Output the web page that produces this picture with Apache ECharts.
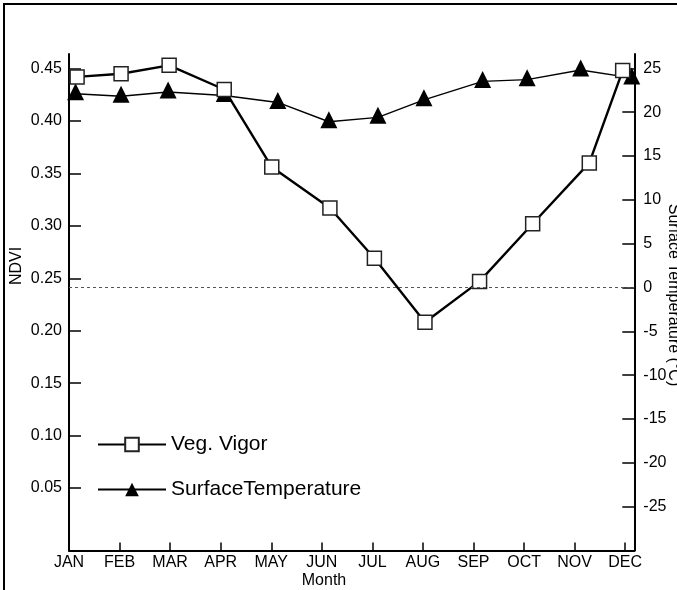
<!DOCTYPE html>
<html><head><meta charset="utf-8">
<script src="https://cdn.jsdelivr.net/npm/echarts@6/dist/echarts.min.js"></script>
<style>html,body{margin:0;padding:0;background:#fff}#c{width:677px;height:590px}</style>
</head><body><div id="c"></div>
<script>
// ---- data ----
const months = ['JAN','FEB','MAR','APR','MAY','JUN','JUL','AUG','SEP','OCT','NOV','DEC'];
// x position of each observation in month units (JAN = 0)
const vigorX = [0.16, 1.03, 1.98, 3.07, 4.01, 5.16, 6.04, 7.04, 8.12, 9.17, 10.29, 10.95];
const vigorNDVI = [0.442, 0.445, 0.453, 0.430, 0.356, 0.317, 0.269, 0.208, 0.247, 0.302, 0.360, 0.448];
const tempX = [0.13, 1.03, 1.96, 3.07, 4.13, 5.14, 6.11, 7.02, 8.18, 9.06, 10.12, 11.13];
const tempC = [22.1, 21.8, 22.3, 21.9, 21.1, 18.9, 19.4, 21.4, 23.5, 23.7, 24.8, 23.9];
const ndviRange = [0.05, 0.45];
const tempRange = [-25, 25];
const seriesNames = ['Veg. Vigor', 'SurfaceTemperature'];

const FONT = '"Liberation Sans", Arial, Helvetica, sans-serif';
const X_MAX = 11.18;
const GL = 69, GR = 42.7;
const blk = '#000';

const hiddenX = (g) => ({gridIndex:g, type:'value', min:0, max:X_MAX, show:false});
const lineOnly = (g, pos) => ({gridIndex:g, type:'value', position:pos, min:0, max:1,
  axisLine:{show:true, onZero:false, lineStyle:{color:blk, width:2}},
  axisTick:{show:false}, axisLabel:{show:false}, splitLine:{show:false}});

const chart = echarts.init(document.getElementById('c'), null, {renderer:'canvas'});
chart.setOption({
  animation:false,
  backgroundColor:'#fff',
  grid:[
    {left:GL, right:GR, top:68.5, bottom:102},   // NDVI 0.05..0.45
    {left:GL, right:GR, top:68.25, bottom:83.25}, // Temp -25..25
    {left:GL, right:GR, top:54, bottom:39.4}     // frame / month axis
  ],
  xAxis:[
    hiddenX(0), hiddenX(1),
    {gridIndex:2, type:'value', min:0, max:X_MAX, interval:1,
     axisLine:{show:true, onZero:false, lineStyle:{color:blk, width:2}},
     axisTick:{show:true, inside:true, length:8, lineStyle:{color:blk, width:1.5}},
     axisLabel:{color:blk, fontSize:16, fontFamily:FONT, margin:4,
       formatter:(v)=> (Number.isInteger(v) && months[v]) ? months[v] : ''},
     splitLine:{show:false}}
  ],
  yAxis:[
    {gridIndex:0, type:'value', position:'left', min:ndviRange[0], max:ndviRange[1], interval:0.05,
     axisLine:{show:false, onZero:false},
     axisTick:{show:true, inside:true, length:12, lineStyle:{color:blk, width:1.5}},
     axisLabel:{color:blk, fontSize:16, fontFamily:FONT, margin:7, formatter:(v)=>v.toFixed(2)},
     splitLine:{show:false}},
    {gridIndex:1, type:'value', position:'right', min:tempRange[0], max:tempRange[1], interval:5,
     axisLine:{show:false, onZero:false},
     axisTick:{show:true, inside:true, length:12, lineStyle:{color:blk, width:1.5}},
     axisLabel:{color:blk, fontSize:16, fontFamily:FONT, margin:9},
     splitLine:{show:false}},
    lineOnly(2,'left'), lineOnly(2,'right')
  ],
  legend:{
    orient:'vertical', left:92, top:429, itemWidth:68, itemHeight:17, itemGap:24,
    selectedMode:false, data:seriesNames,
    textStyle:{color:blk, fontSize:21, fontFamily:FONT}
  },
  series:[
    {name:seriesNames[1], type:'line', xAxisIndex:1, yAxisIndex:1, clip:false, z:2,
     data:tempX.map((x,i)=>[x, tempC[i]]),
     symbol:'triangle', symbolSize:[17,17], symbolOffset:[0,-2],
     lineStyle:{color:blk, width:1.4}, itemStyle:{color:blk},
     markLine:{silent:true, symbol:'none', label:{show:false},
       lineStyle:{color:'#555', type:[3,3], width:1}, data:[{yAxis:0}]}},
    {name:seriesNames[0], type:'line', xAxisIndex:0, yAxisIndex:0, clip:false, z:3,
     data:vigorX.map((x,i)=>[x, vigorNDVI[i]]),
     symbol:'rect', symbolSize:14,
     lineStyle:{color:blk, width:2.4},
     itemStyle:{color:'#fff', borderColor:'#222', borderWidth:1.5}}
  ],
  graphic:[
    {type:'rect', shape:{x:4, y:4, width:700, height:700}, silent:true,
     style:{fill:'none', stroke:blk, lineWidth:2}},
    {type:'text', x:16.5, y:266, rotation:Math.PI/2, silent:true,
     style:{text:'NDVI', fill:blk, font:'16px '+FONT, textAlign:'center', textVerticalAlign:'middle'}},
    {type:'text', x:324, y:581, silent:true,
     style:{text:'Month', fill:blk, font:'16px '+FONT, textAlign:'center', textVerticalAlign:'middle'}},
    {type:'text', x:673.5, y:295, rotation:-Math.PI/2, silent:true,
     style:{text:'Surface Temperature (°C)', fill:blk, font:'16px '+FONT, textAlign:'center', textVerticalAlign:'middle'}}
  ]
});
</script></body></html>
